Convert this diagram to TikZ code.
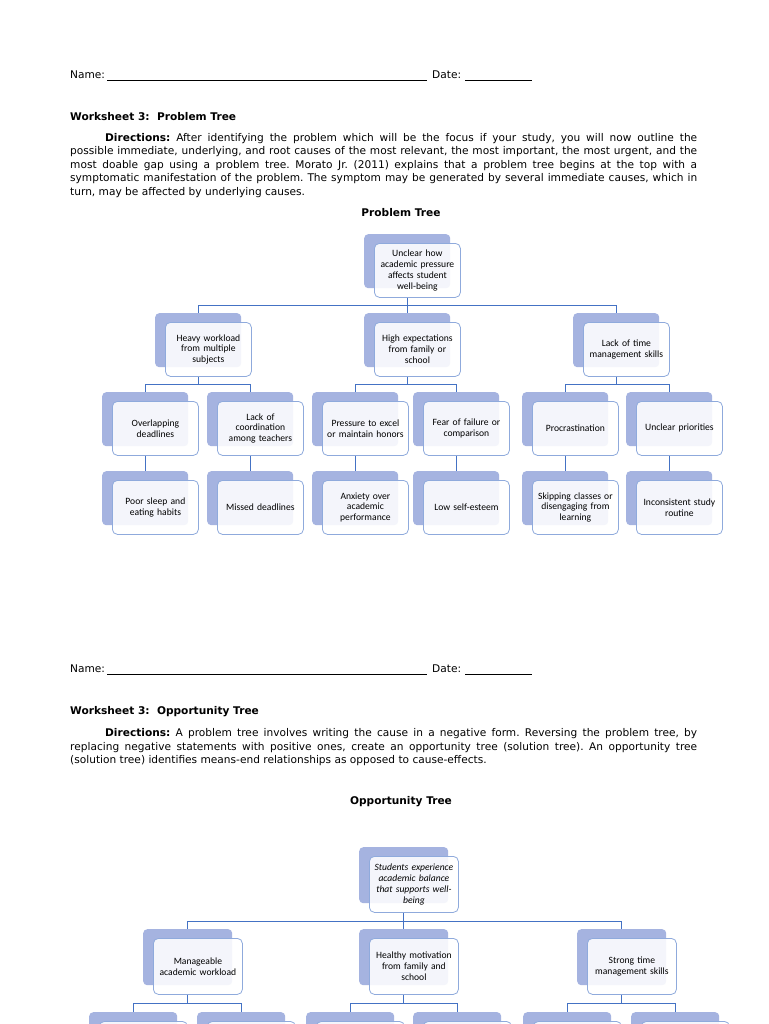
\documentclass[tikz,border=0pt]{standalone}
\usepackage{fontspec}
\setmainfont{DejaVu Sans}
\newfontfamily\boxfont{Carlito}
\definecolor{backblue}{RGB}{165,179,224}
\definecolor{edgeblue}{RGB}{143,170,220}
\definecolor{lineblue}{RGB}{68,114,196}
\newcommand\tpair[5]{% name, x, y, size style, text
  \node[backbox,#4] (#1-b) at (#2,#3) {};
  \node[frontbox,#4] (#1) at (#2+10,#3+9) {#5};}
\frenchspacing
\begin{document}
\begin{tikzpicture}[x=1pt,y=-1pt,
  backbox/.style={draw=none, fill=backblue, rounded corners=4pt, anchor=north west, inner sep=0pt},
  frontbox/.style={draw=edgeblue, line width=0.8pt, fill=white, fill opacity=0.88, text opacity=1,
    rounded corners=5pt, anchor=north west, inner sep=0pt, align=center,
    font=\boxfont\fontsize{9.6}{10.8}\selectfont},
  psize/.style={minimum width=86pt, minimum height=54pt, text width=82pt},
  osize/.style={minimum width=89pt, minimum height=56pt, text width=85pt},
  lsize/.style={minimum width=88pt, minimum height=56pt, text width=84pt},
  conn/.style={draw=lineblue, line width=0.9pt},
  body/.style={anchor=base west, inner sep=0pt, font=\fontsize{10.6}{13.5}\selectfont},
  heading/.style={anchor=base west, inner sep=0pt, font=\fontsize{10.6}{13.5}\selectfont\bfseries},
  title/.style={anchor=base, inner sep=0pt, font=\fontsize{10.6}{13.5}\selectfont\bfseries}
]
\clip (0,0) rectangle (768,1024);
\fill[white] (0,0) rectangle (768,1024);

% ---------- Section 1 text ----------
\node[body] (name1) at (70,78.5) {\makebox[37pt][l]{Name:}\rule[-2.2pt]{320pt}{0.7pt}\hspace{5pt}\makebox[33pt][l]{Date:}\rule[-2.2pt]{67pt}{0.7pt}};
\node[heading] (ws1) at (70,120.5) {Worksheet 3:\ \ Problem Tree};
\node[body] (d1a) at (105,141.5) {\makebox[592pt][s]{\textbf{Directions:} After identifying the problem which will be the focus if your study, you will now outline the}};
\node[body] (d1b) at (70,155) {\makebox[627pt][s]{possible immediate, underlying, and root causes of the most relevant, the most important, the most urgent, and the}};
\node[body] (d1c) at (70,168.5) {\makebox[627pt][s]{most doable gap using a problem tree. Morato Jr. (2011) explains that a problem tree begins at the top with a}};
\node[body] (d1d) at (70,182) {\makebox[627pt][s]{symptomatic manifestation of the problem. The symptom may be generated by several immediate causes, which in}};
\node[body] (d1e) at (70,195.5) {turn, may be affected by underlying causes.};
\node[title] (pt) at (401,216.5) {Problem Tree};

% ---------- Problem tree ----------
\tpair{P0}{364}{234}{psize}{Unclear how\\academic pressure\\affects student\\well-being}
\tpair{P1}{155}{313}{psize}{Heavy workload\\from multiple\\subjects}
\tpair{P2}{364}{313}{psize}{High expectations\\from family or\\school}
\tpair{P3}{573}{313}{psize}{Lack of time\\management skills}
\tpair{P11}{102}{392}{psize}{Overlapping\\deadlines}
\tpair{P12}{207}{392}{psize}{Lack of\\coordination\\among teachers}
\tpair{P21}{312}{392}{psize}{Pressure to excel\\or maintain honors}
\tpair{P22}{413}{392}{psize}{Fear of failure or\\comparison}
\tpair{P31}{522}{392}{psize}{Procrastination}
\tpair{P32}{626}{392}{psize}{Unclear priorities}
\tpair{Q11}{102}{471}{psize}{Poor sleep and\\eating habits}
\tpair{Q12}{207}{471}{psize}{Missed deadlines}
\tpair{Q21}{312}{471}{psize}{Anxiety over\\academic\\performance}
\tpair{Q22}{413}{471}{psize}{Low self-esteem}
\tpair{Q31}{522}{471}{psize}{Skipping classes or\\disengaging from\\learning}
\tpair{Q32}{626}{471}{psize}{Inconsistent study\\routine}

\coordinate (busA) at (0,305);
\coordinate (busB) at (0,384);
\draw[conn] (P0-b.center |- P0.south) -- (P0-b.center |- busA);
\foreach \c in {P1,P2,P3} \draw[conn] (P0-b.center |- busA) -| (\c-b.north);
\draw[conn] (P1-b.center |- P1.south) -- (P1-b.center |- busB);
\foreach \c in {P11,P12} \draw[conn] (P1-b.center |- busB) -| (\c-b.north);
\draw[conn] (P2-b.center |- P2.south) -- (P2-b.center |- busB);
\foreach \c in {P21,P22} \draw[conn] (P2-b.center |- busB) -| (\c-b.north);
\draw[conn] (P3-b.center |- P3.south) -- (P3-b.center |- busB);
\foreach \c in {P31,P32} \draw[conn] (P3-b.center |- busB) -| (\c-b.north);
\foreach \a/\b in {P11/Q11,P12/Q12,P21/Q21,P22/Q22,P31/Q31,P32/Q32}
  \draw[conn] (\a-b.center |- \a.south) -- (\b-b.north);

% ---------- Section 2 text ----------
\node[body] (name2) at (70,672.5) {\makebox[37pt][l]{Name:}\rule[-2.2pt]{320pt}{0.7pt}\hspace{5pt}\makebox[33pt][l]{Date:}\rule[-2.2pt]{67pt}{0.7pt}};
\node[heading] (ws2) at (70,714.5) {Worksheet 3:\ \ Opportunity Tree};
\node[body] (d2a) at (105,736.5) {\makebox[592pt][s]{\textbf{Directions:} A problem tree involves writing the cause in a negative form. Reversing the problem tree, by}};
\node[body] (d2b) at (70,750) {\makebox[627pt][s]{replacing negative statements with positive ones, create an opportunity tree (solution tree). An opportunity tree}};
\node[body] (d2c) at (70,763.5) {(solution tree) identifies means-end relationships as opposed to cause-effects.};
\node[title] (ot) at (401,804.5) {Opportunity Tree};

% ---------- Opportunity tree ----------
\tpair{O0}{359}{847}{osize}{\itshape Students experience\\\itshape academic balance\\\itshape that supports well-\\\itshape being}
\tpair{O1}{143}{929}{osize}{Manageable\\academic workload}
\tpair{O2}{359}{929}{osize}{Healthy motivation\\from family and\\school}
\tpair{O3}{577}{929}{osize}{Strong time\\management skills}
\tpair{O11}{89}{1012}{lsize}{}
\tpair{O12}{197}{1012}{lsize}{}
\tpair{O21}{306}{1012}{lsize}{}
\tpair{O22}{413}{1012}{lsize}{}
\tpair{O31}{523}{1012}{lsize}{}
\tpair{O32}{631}{1012}{lsize}{}

\coordinate (busC) at (0,921);
\coordinate (busD) at (0,1003);
\draw[conn] (O0-b.center |- O0.south) -- (O0-b.center |- busC);
\foreach \c in {O1,O2,O3} \draw[conn] (O0-b.center |- busC) -| (\c-b.north);
\draw[conn] (O1-b.center |- O1.south) -- (O1-b.center |- busD);
\foreach \c in {O11,O12} \draw[conn] (O1-b.center |- busD) -| (\c-b.north);
\draw[conn] (O2-b.center |- O2.south) -- (O2-b.center |- busD);
\foreach \c in {O21,O22} \draw[conn] (O2-b.center |- busD) -| (\c-b.north);
\draw[conn] (O3-b.center |- O3.south) -- (O3-b.center |- busD);
\foreach \c in {O31,O32} \draw[conn] (O3-b.center |- busD) -| (\c-b.north);
\end{tikzpicture}
\end{document}
